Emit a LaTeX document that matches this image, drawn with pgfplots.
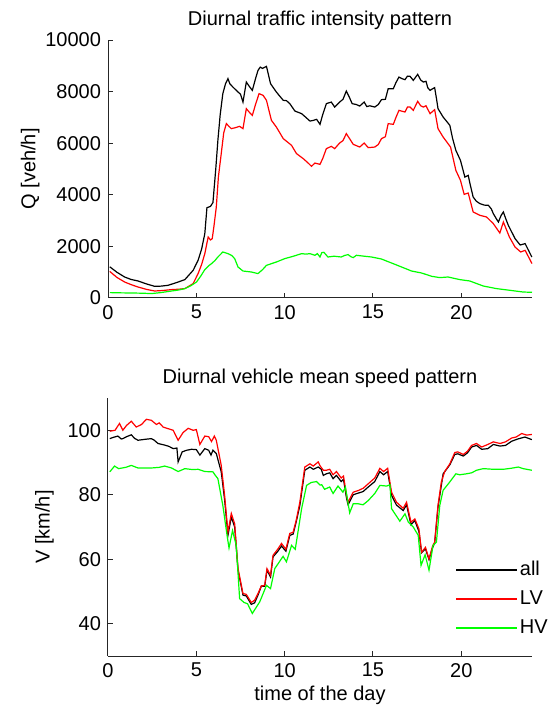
\documentclass[border=0pt]{standalone}
\usepackage{fontspec}
\setmainfont{Liberation Sans}
\usepackage{pgfplots}
\pgfplotsset{compat=1.18}
\definecolor{mred}{RGB}{255,0,0}
\definecolor{mgreen}{RGB}{0,255,0}
\pgfplotsset{
  myax/.style={
    scale only axis, width=212pt, height=129pt,
    axis x line*=bottom, axis y line*=left,
    axis line style={line width=0.5pt, black!85},
    tick align=inside, major tick length=2.5pt,
    tick style={black!85, line width=0.5pt},
    xmin=0, xmax=24, xtick={0,5,10,15,20},
    /pgf/number format/assume math mode=true,
    /pgf/number format/1000 sep={},
    scaled y ticks=false,
    every axis title/.style={at={(0.5,1)}, anchor=base, yshift=7.5pt},
    every axis plot/.append style={no markers, line width=0.6pt, sharp plot},
    clip=false,
  }
}
\begin{document}
\begin{tikzpicture}
\useasboundingbox (0,0) rectangle (277pt,354.5pt);
\begin{axis}[myax, at={(54pt,205.5pt)}, anchor=south west,
  ymin=0, ymax=10000, ytick={0,2000,4000,6000,8000,10000},
  title={Diurnal traffic intensity pattern}, ylabel={Q [veh/h]},
  ylabel style={yshift=-4pt}]
\addplot[black] coordinates {
(0.1,1210)(0.5,1000)(0.94,814)(1.3,720)(1.7,660)(2.2,540)(2.64,453)(3.0,460)(3.4,492)(3.88,597)(4.35,713)(4.82,1073)(5.1,1461)(5.3,1900)(5.48,2495)(5.6,3500)(5.8,3550)(5.94,3700)(6.1,5000)(6.22,6111)(6.35,7100)(6.5,7920)(6.65,8300)(6.79,8501)(6.9,8300)(7.07,8176)(7.36,7983)(7.5,7900)(7.64,7595)(7.83,8370)(8.0,8200)(8.17,8048)(8.35,8500)(8.49,8823)(8.62,8950)(8.74,8900)(8.97,8978)(9.1,8600)(9.2,8308)(9.53,7983)(9.92,7661)(10.1,7650)(10.29,7533)(10.58,7246)(10.96,7145)(11.2,7000)(11.43,6859)(11.6,6880)(11.81,6925)(12.0,6731)(12.15,7100)(12.36,7533)(12.64,7595)(12.83,7401)(13.11,7595)(13.3,7700)(13.49,8021)(13.65,7800)(13.82,7533)(14.05,7500)(14.25,7440)(14.5,7595)(14.65,7420)(14.82,7450)(15.1,7401)(15.3,7500)(15.48,7688)(15.7,7700)(15.86,8114)(16.15,8114)(16.3,8350)(16.47,8564)(16.65,8500)(16.81,8463)(16.95,8600)(17.1,8591)(17.28,8436)(17.53,8668)(17.7,8450)(17.85,8370)(18.0,8400)(18.1,8150)(18.23,8048)(18.35,8100)(18.49,8153)(18.6,7700)(18.68,7339)(18.97,7014)(19.35,6692)(19.5,6200)(19.69,5723)(19.95,5336)(20.2,4689)(20.39,4754)(20.5,4400)(20.67,3914)(20.85,3750)(21.05,3658)(21.3,3600)(21.53,3592)(21.7,3450)(21.81,3271)(22.0,3050)(22.1,2945)(22.25,3200)(22.38,3333)(22.5,3100)(22.66,2817)(23.04,2302)(23.33,2054)(23.61,2108)(23.8,1850)(23.99,1589)
};
\addplot[mred] coordinates {
(0.1,1030)(0.5,800)(0.94,620)(1.3,520)(1.7,426)(2.2,330)(2.64,271)(3.1,290)(3.59,325)(4.0,340)(4.35,364)(4.82,558)(5.1,946)(5.3,1300)(5.48,1720)(5.67,2364)(5.8,2250)(5.9,2300)(6.0,2800)(6.13,3526)(6.25,4700)(6.41,5596)(6.55,6400)(6.7,6758)(6.85,6650)(6.98,6564)(7.2,6600)(7.45,6653)(7.64,6564)(7.83,7339)(8.0,7200)(8.17,7079)(8.35,7500)(8.55,7921)(8.78,7854)(8.97,7661)(9.25,6886)(9.53,6627)(9.92,6177)(10.15,6050)(10.39,5917)(10.67,5596)(11.05,5402)(11.3,5250)(11.52,5103)(11.71,5231)(12.0,5181)(12.15,5400)(12.36,5789)(12.64,5878)(12.83,5789)(13.11,6006)(13.3,6100)(13.49,6370)(13.7,6150)(13.88,5956)(14.25,5851)(14.5,6006)(14.73,5828)(15.1,5851)(15.3,5950)(15.48,6177)(15.7,6250)(15.86,6758)(16.15,6731)(16.3,7000)(16.47,7273)(16.81,7208)(16.95,7400)(17.1,7401)(17.28,7273)(17.53,7622)(17.7,7450)(17.85,7401)(18.0,7450)(18.23,7145)(18.49,7300)(18.68,6564)(18.97,6239)(19.39,5851)(19.69,4948)(19.95,4561)(20.16,4018)(20.39,4069)(20.67,3333)(21.05,3204)(21.43,3139)(21.81,2883)(22.18,2519)(22.38,2945)(22.72,2364)(23.04,1976)(23.36,1783)(23.61,1848)(24.0,1333)
};
\addplot[mgreen] coordinates {
(0.1,209)(0.7,200)(1.32,194)(2.0,185)(2.45,170)(3.0,210)(3.59,271)(4.0,310)(4.35,364)(4.7,480)(5.01,620)(5.25,850)(5.48,1100)(5.7,1250)(5.86,1333)(6.05,1450)(6.22,1589)(6.5,1783)(6.79,1720)(7.0,1650)(7.17,1527)(7.36,1201)(7.64,1046)(8.11,1008)(8.49,946)(8.75,1100)(8.97,1267)(9.53,1395)(10.01,1527)(10.48,1616)(10.96,1720)(11.2,1700)(11.43,1720)(11.71,1655)(11.85,1720)(12.0,1589)(12.1,1759)(12.22,1771)(12.45,1589)(12.8,1620)(13.2,1589)(13.4,1650)(13.59,1682)(13.75,1600)(13.88,1565)(14.06,1655)(14.5,1620)(14.92,1589)(15.48,1511)(16.05,1356)(16.62,1201)(17.18,1046)(17.75,969)(18.32,841)(18.78,790)(19.25,814)(19.91,713)(20.48,659)(21.24,465)(21.99,364)(22.75,298)(23.5,232)(24.0,220)
};
\end{axis}
\begin{axis}[myax, at={(54pt,26.5pt)}, anchor=south west,
  ymin=30, ymax=110, ytick={40,60,80,100},
  title={Diurnal vehicle mean speed pattern}, ylabel={V [km/h]},
  xlabel={time of the day}, xlabel style={yshift=2.5pt},
  legend style={draw=none, fill=none, at={(0.805,0.395)}, anchor=north west,
    legend cell align=left, row sep=3pt, nodes={inner sep=1.5pt}},
  legend image code/.code={\fill[#1] (0pt,0pt) rectangle (30pt,0.5pt);}]
\addplot[black] coordinates {
(0.1,97.4)(0.3,97.8)(0.56,98.2)(0.75,97.3)(0.84,97.4)(1.05,98)(1.32,98.6)(1.5,97.5)(1.7,96.9)(2.1,97.2)(2.45,97.4)(2.6,97)(2.83,95.9)(3.21,95.4)(3.45,95)(3.69,94.3)(3.9,94.5)(3.97,90.2)(4.2,93.3)(4.45,93.8)(4.73,94.1)(5.0,94)(5.2,92.3)(5.48,94.3)(5.7,93.8)(5.83,92.3)(5.94,93.8)(6.13,92.8)(6.41,87.1)(6.6,78.5)(6.79,67.4)(6.98,73.1)(7.17,70)(7.36,56.6)(7.64,48.9)(7.83,48.6)(8.11,46)(8.3,46.5)(8.5,49)(8.68,51.7)(8.87,51.6)(9.0,56.6)(9.2,54.5)(9.34,60.7)(9.63,62.6)(9.82,64.1)(10.07,62.5)(10.29,67.4)(10.48,67.8)(10.65,71.5)(10.86,76.7)(11.14,87.6)(11.43,88.6)(11.62,87.9)(11.9,88.6)(12.07,87.9)(12.19,86.0)(12.36,86.5)(12.55,86.8)(12.74,85)(12.93,86)(13.2,84.1)(13.33,84.8)(13.5,79)(13.59,76.9)(13.88,80)(14.16,80.5)(14.44,81)(14.73,82.4)(15.1,84.1)(15.39,87.2)(15.6,86.2)(15.83,87.2)(16.05,79.8)(16.33,76.8)(16.71,75.1)(16.9,76.9)(17.15,70.7)(17.37,72)(17.6,68.6)(17.75,62)(17.97,63.2)(18.17,59.9)(18.38,63.7)(18.49,65)(18.68,76.2)(18.97,86.5)(19.35,89.3)(19.63,92.5)(19.8,92.7)(20.11,92)(20.35,93)(20.58,94.8)(20.86,95.3)(21.15,94.1)(21.5,94.3)(21.81,95.6)(22.19,95.1)(22.5,95.3)(22.85,96.6)(23.2,97.3)(23.6,97.9)(23.99,97.1)
};
\addlegendentry{all}
\addplot[mred] coordinates {
(0.1,99.7)(0.4,100)(0.65,102.1)(0.84,100)(1.05,101.5)(1.32,102.8)(1.6,101)(1.9,101.8)(2.17,103.4)(2.45,103.1)(2.74,101.8)(2.9,102.3)(3.12,101)(3.4,100.5)(3.69,100)(3.97,96.9)(4.25,99.3)(4.54,100.6)(4.82,100)(5.0,100.2)(5.2,95.6)(5.48,98.2)(5.7,98)(5.86,96.5)(6.02,98.2)(6.13,96.9)(6.41,89.1)(6.6,79.8)(6.79,68.4)(6.98,74.2)(7.17,71)(7.36,57.1)(7.64,49.4)(7.83,49.1)(8.11,46.6)(8.3,47.3)(8.5,49.5)(8.68,51.7)(8.87,51.9)(9.0,57.1)(9.2,55)(9.34,61.2)(9.63,63.3)(9.82,64.9)(10.07,63.1)(10.29,68)(10.48,68.4)(10.65,72)(10.86,77.7)(11.14,88.6)(11.43,89.6)(11.62,88.9)(11.9,90.2)(12.0,89.0)(12.19,87.6)(12.36,87.6)(12.55,87.9)(12.74,86.2)(12.93,87.2)(13.2,85.2)(13.33,85.8)(13.5,80)(13.59,77.7)(13.88,80.8)(14.16,81.3)(14.44,82)(14.73,83.4)(15.1,85.2)(15.39,88.2)(15.6,87.2)(15.83,88.2)(16.05,80.8)(16.33,77.7)(16.71,75.8)(16.9,77.7)(17.15,71.5)(17.37,72.5)(17.6,69.4)(17.75,62.2)(17.97,63.7)(18.17,60.1)(18.38,64.2)(18.49,65.3)(18.68,76.7)(18.87,84)(19.06,87.2)(19.35,89.6)(19.63,93.1)(19.8,93.3)(20.11,92.5)(20.35,93.5)(20.58,95.3)(20.86,95.9)(21.15,94.8)(21.5,95.6)(21.81,96.4)(22.19,95.9)(22.5,96.4)(22.85,97.6)(23.1,97.9)(23.42,99)(23.7,98.5)(23.99,98.7)
};
\addlegendentry{LV}
\addplot[mgreen] coordinates {
(0.1,87.1)(0.37,88.9)(0.6,88.1)(1.0,88.5)(1.32,89.1)(1.7,88.3)(2.45,88.3)(2.9,88.5)(3.21,88.9)(3.6,88.3)(3.97,87.2)(4.35,88.1)(4.8,87.8)(5.1,87.9)(5.48,87.2)(5.94,87.1)(6.05,86.2)(6.22,85)(6.5,76.7)(6.75,67)(6.85,63.5)(7.05,68.9)(7.26,64.3)(7.45,47.8)(7.7,46.6)(7.9,46.2)(8.17,43.2)(8.59,46.8)(8.97,51.9)(9.2,50.9)(9.44,57.1)(9.91,60.9)(10.1,59.2)(10.39,64.3)(10.6,63.1)(10.96,75.7)(11.24,82.9)(11.5,83.8)(11.81,84.1)(12.0,83)(12.1,83.1)(12.26,81.7)(12.55,82.4)(12.74,80.4)(13.02,82.7)(13.3,80.8)(13.44,82.4)(13.68,74.4)(13.88,77.2)(14.16,77.2)(14.44,76.9)(14.73,78.2)(15.1,80.4)(15.39,82.9)(15.77,82.7)(15.96,83.1)(16.05,75.7)(16.52,71.8)(16.81,74.1)(17.0,71.5)(17.28,70)(17.56,67.4)(17.72,58.1)(17.95,61.4)(18.17,56.6)(18.4,64.3)(18.59,65.3)(18.78,76.7)(18.97,81.4)(19.35,84)(19.69,86.5)(19.91,86.2)(20.29,86.5)(20.58,86.8)(20.86,87.6)(21.24,88.1)(21.81,87.9)(22.38,87.9)(22.8,88.2)(23.23,88.6)(23.5,88.1)(23.99,87.6)
};
\addlegendentry{HV}
\end{axis}
\end{tikzpicture}
\end{document}
